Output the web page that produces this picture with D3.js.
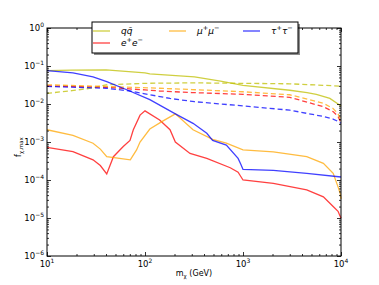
<!DOCTYPE html>
<html>
<head>
<meta charset="utf-8">
<script src="https://cdn.jsdelivr.net/npm/d3@7.9.0/dist/d3.min.js"></script>
<style>
  body { margin: 0; background: #fff; }
  text { font-family: "DejaVu Sans", sans-serif; }
</style>
</head>
<body>
<svg id="chart" width="379" height="285"></svg>
<script>
// values (mass in GeV, f_chi,max)
const qqSolidMass = [10, 18, 40, 100, 112, 320, 590, 1000, 3000, 4500, 5600, 7700, 10000];
const qqSolidF = [7.6e-2, 7.8e-2, 7.9e-2, 6.6e-2, 6.2e-2, 5.2e-2, 4.0e-2, 3.1e-2, 2.3e-2, 2.0e-2, 1.8e-2, 1.4e-2, 8.9e-3];
const qqDashMass = [10, 18, 28, 40, 100, 300, 1000, 3000, 10000];
const qqDashF = [1.9e-2, 2.25e-2, 2.6e-2, 3.2e-2, 3.5e-2, 3.6e-2, 3.5e-2, 3.4e-2, 2.95e-2];

const eSolidMass = [10, 18.4, 29.5, 35, 40.7, 47.6, 60, 70.3, 76, 89, 100, 141, 180, 204, 288, 427, 741, 891, 1000, 2040, 4470, 6610, 8320, 9330, 10000];
const eSolidF = [7.2e-4, 5.6e-4, 3.4e-4, 2.4e-4, 1.45e-4, 4.1e-4, 7.6e-4, 1.1e-3, 2.1e-3, 5.1e-3, 6.6e-3, 3.8e-3, 2.1e-3, 1.0e-3, 5.0e-4, 3.7e-4, 2.1e-4, 1.6e-4, 1.0e-4, 8.1e-5, 5.5e-5, 3.6e-5, 2.0e-5, 1.5e-5, 9.8e-6];
const eDashMass = [10, 40, 100, 140, 300, 1000, 3000, 6600, 8300, 9300, 10000];
const eDashF = [3.0e-2, 2.75e-2, 2.35e-2, 2.2e-2, 2.0e-2, 1.8e-2, 1.5e-2, 8.5e-3, 6.3e-3, 4.8e-3, 3.2e-3];

const muSolidMass = [10, 18.4, 29.5, 35, 40.7, 70.8, 82, 89, 112, 150, 204, 309, 490, 676, 1000, 2040, 4470, 6610, 8320, 9330, 9800, 10000];
const muSolidF = [2.1e-3, 1.5e-3, 9.3e-4, 6.5e-4, 4.1e-4, 3.4e-4, 6.2e-4, 1.0e-3, 2.2e-3, 3.5e-3, 5.5e-3, 2.1e-3, 1.17e-3, 9.3e-4, 6.2e-4, 5.5e-4, 4.1e-4, 2.75e-4, 1.5e-4, 6.6e-5, 4.5e-5, 3.2e-5];
const muDashMass = [10, 40, 140, 300, 1000, 3000, 6600, 8300, 9300, 10000];
const muDashF = [3.2e-2, 2.9e-2, 2.6e-2, 2.4e-2, 2.1e-2, 1.75e-2, 1.05e-2, 7.6e-3, 5.6e-3, 3.8e-3];

const tauSolidMass = [10, 18.4, 29.5, 40.7, 67, 112, 204, 309, 427, 490, 676, 891, 950, 1000, 2040, 4470, 10000];
const tauSolidF = [7.6e-2, 6.6e-2, 5.2e-2, 3.9e-2, 2.3e-2, 1.3e-2, 5.5e-3, 3.1e-3, 1.7e-3, 1.1e-3, 8.3e-4, 3.7e-4, 2.6e-4, 1.9e-4, 1.8e-4, 1.5e-4, 1.2e-4];
const tauDashMass = [10, 40, 70, 100, 180, 320, 1000, 3000, 6600, 8300, 9300, 10000];
const tauDashF = [2.9e-2, 2.6e-2, 2.2e-2, 1.85e-2, 1.4e-2, 1.15e-2, 8.9e-3, 6.9e-3, 4.7e-3, 4.0e-3, 3.5e-3, 3.1e-3];

const xMajor = [1e1, 1e2, 1e3, 1e4];
const xExp = ['1', '2', '3', '4'];
const yMajor = [1e0, 1e-1, 1e-2, 1e-3, 1e-4, 1e-5, 1e-6];
const yExp = ['0', '\u22121', '\u22122', '\u22123', '\u22124', '\u22125', '\u22126'];

const series = [
  { name: 'qq', color: '#bfbf00', mass: qqSolidMass, f: qqSolidF, dash: null },
  { name: 'qq', color: '#bfbf00', mass: qqDashMass, f: qqDashF, dash: '5,3' },
  { name: 'ee', color: '#ff0000', mass: eSolidMass, f: eSolidF, dash: null },
  { name: 'ee', color: '#ff0000', mass: eDashMass, f: eDashF, dash: '5,3' },
  { name: 'mumu', color: '#ffa500', mass: muSolidMass, f: muSolidF, dash: null },
  { name: 'mumu', color: '#ffa500', mass: muDashMass, f: muDashF, dash: '5,3' },
  { name: 'tautau', color: '#0000ff', mass: tauSolidMass, f: tauSolidF, dash: null },
  { name: 'tautau', color: '#0000ff', mass: tauDashMass, f: tauDashF, dash: '5,3' },
];

const margin = { left: 47, right: 38, top: 28, bottom: 29 };
const W = 379, H = 285;
const svg = d3.select('#chart');

const x = d3.scaleLog().domain([10, 1e4]).range([margin.left, W - margin.right]);
const y = d3.scaleLog().domain([1e-6, 1]).range([H - margin.bottom, margin.top]);

// minor tick positions
function minors(lo, hi) {
  let out = [];
  for (let e = lo; e < hi; e++) {
    for (let k = 2; k <= 9; k++) out.push(k * Math.pow(10, e));
  }
  return out;
}
const xMinor = minors(1, 4);
const yMinor = minors(-6, 0);

// data lines
const line = d3.line().x((d) => x(d[0])).y((d) => y(d[1]));
const plot = svg.append('g');
series.forEach((s) => {
  plot.append('path')
    .attr('d', line(d3.zip(s.mass, s.f)))
    .attr('fill', 'none')
    .attr('stroke', s.color)
    .attr('stroke-opacity', 0.75)
    .attr('stroke-width', 1.3)
    .attr('stroke-dasharray', s.dash);
});

// ticks on all four sides, pointing inward
function ticks(axis, pos, vals, size) {
  svg.append('g')
    .attr('transform', pos)
    .call(axis.tickValues(vals).tickSize(size).tickFormat(''))
    .call((g) => g.select('.domain').remove())
    .call((g) => g.selectAll('line').attr('stroke', '#000').attr('stroke-width', 0.8));
}
const bottom = `translate(0,${H - margin.bottom})`;
const right = `translate(${W - margin.right},0)`;
ticks(d3.axisBottom(x), bottom, xMajor, -4);
ticks(d3.axisBottom(x), bottom, xMinor, -2);
ticks(d3.axisTop(x), `translate(0,${margin.top})`, xMajor, -4);
ticks(d3.axisTop(x), `translate(0,${margin.top})`, xMinor, -2);
ticks(d3.axisLeft(y), `translate(${margin.left},0)`, yMajor, -4);
ticks(d3.axisLeft(y), `translate(${margin.left},0)`, yMinor, -2);
ticks(d3.axisRight(y), right, yMajor, -4);
ticks(d3.axisRight(y), right, yMinor, -2);

svg.append('rect')
  .attr('x', margin.left).attr('y', margin.top)
  .attr('width', W - margin.left - margin.right)
  .attr('height', H - margin.top - margin.bottom)
  .attr('fill', 'none').attr('stroke', '#000').attr('stroke-width', 1);

// tick labels with superscript exponents
function powLabel(t, exp) {
  t.append('tspan').text('10');
  t.append('tspan').attr('dy', -4).attr('font-size', 6).text(exp);
}
xMajor.forEach((v, i) => {
  const t = svg.append('text')
    .attr('x', x(v)).attr('y', 267)
    .attr('text-anchor', 'middle').attr('font-size', 8.5);
  powLabel(t, xExp[i]);
});
yMajor.forEach((v, i) => {
  const t = svg.append('text')
    .attr('x', 44).attr('y', y(v) + 3)
    .attr('text-anchor', 'end').attr('font-size', 8.5);
  powLabel(t, yExp[i]);
});

// axis titles
const xt = svg.append('text')
  .attr('x', 194).attr('y', 276)
  .attr('text-anchor', 'middle').attr('font-size', 8);
xt.append('tspan').text('m');
xt.append('tspan').attr('dy', 2).attr('font-size', 5.5).text('\u03c7');
xt.append('tspan').attr('dy', -2).text(' (GeV)');

const yt = svg.append('text')
  .attr('transform', 'translate(21,147) rotate(-90)')
  .attr('text-anchor', 'middle').attr('font-size', 8);
yt.append('tspan').text('f');
yt.append('tspan').attr('dy', 2).attr('font-size', 5.5).text('\u03c7,max');

// legend
const legendItems = [
  { label: ['q', 'q\u0304'], color: '#bfbf00', lx: 93, ly: 31 },
  { label: ['e', '+', 'e', '\u2212'], color: '#ff0000', lx: 93, ly: 43 },
  { label: ['\u03bc', '+', '\u03bc', '\u2212'], color: '#ffa500', lx: 169, ly: 31 },
  { label: ['\u03c4', '+', '\u03c4', '\u2212'], color: '#0000ff', lx: 243, ly: 31 },
];
const lg = svg.append('g');
lg.append('rect')
  .attr('x', 94).attr('y', 24).attr('width', 206).attr('height', 31)
  .attr('fill', '#000').attr('fill-opacity', 0.45);
lg.append('rect')
  .attr('x', 92).attr('y', 22).attr('width', 206).attr('height', 31)
  .attr('fill', '#fff').attr('stroke', '#000').attr('stroke-width', 1);
legendItems.forEach((d) => {
  lg.append('line')
    .attr('x1', d.lx).attr('x2', d.lx + 17)
    .attr('y1', d.ly).attr('y2', d.ly)
    .attr('stroke', d.color).attr('stroke-opacity', 0.75).attr('stroke-width', 1.3);
  const t = lg.append('text')
    .attr('x', d.lx + 28).attr('y', d.ly + 3)
    .attr('font-size', 9).attr('font-style', 'italic');
  if (d.label.length === 2) {
    t.append('tspan').text(d.label[0] + d.label[1]);
  } else {
    t.append('tspan').text(d.label[0]);
    t.append('tspan').attr('dy', -4).attr('font-size', 6.5).text(d.label[1]);
    t.append('tspan').attr('dy', 4).text(d.label[2]);
    t.append('tspan').attr('dy', -4).attr('font-size', 6.5).text(d.label[3]);
  }
});
</script>
</body>
</html>
